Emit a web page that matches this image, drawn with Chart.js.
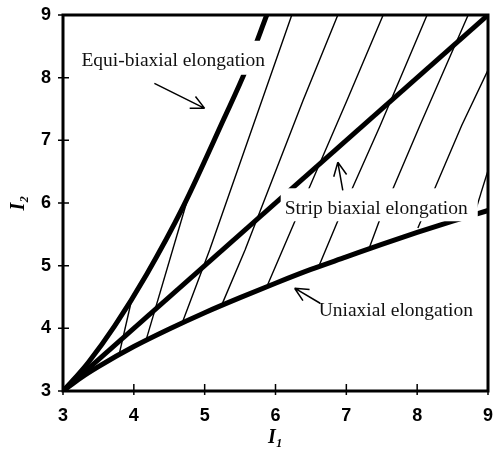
<!DOCTYPE html>
<html>
<head>
<meta charset="utf-8">
<script src="https://cdn.jsdelivr.net/npm/chart.js@4"></script>
<style>
  html, body { margin: 0; padding: 0; background: #fff; }
  canvas { display: block; }
</style>
</head>
<body>
<canvas id="chart" width="495" height="450"></canvas>
<script>
// values (I1 on x, I2 on y)
const uniaxialI1 = [3.0, 3.25, 3.5, 4.0, 4.5, 5.0, 5.5, 6.0, 6.5, 7.0, 7.5, 8.0, 8.5, 9.0];
const uniaxialI2 = [3.0, 3.21, 3.39, 3.71, 3.99, 4.25, 4.49, 4.72, 4.94, 5.14, 5.34, 5.53, 5.71, 5.88];

const equiI1 = [3.0, 3.10, 3.36, 3.73, 4.18, 4.70, 5.27, 5.58, 5.89];
const equiI2 = [3.0, 3.12, 3.46, 4.04, 4.86, 5.95, 7.34, 8.12, 9.04];

const stripI1 = [3.0, 9.0];
const stripI2 = [3.0, 9.0];

// thin shading lines, each a list of [I1, I2] points
const hatchLines = [
  [[3.80, 3.62], [3.97, 4.46]],
  [[4.18, 3.84], [4.80, 6.22]],
  [[4.69, 4.11], [5.07, 5.25], [6.23, 9.0]],
  [[5.24, 4.37], [5.57, 5.25], [6.39, 7.64], [6.88, 9.0]],
  [[5.88, 4.67], [6.46, 6.20], [7.01, 7.64], [7.52, 9.0]],
  [[6.60, 4.96], [6.87, 5.69], [7.48, 7.24], [8.14, 9.0]],
  [[7.33, 5.30], [7.47, 5.73], [8.04, 7.24], [8.72, 9.0]],
  [[8.01, 5.60], [8.63, 7.24], [9.0, 8.12]],
  [[8.80, 5.79], [9.0, 6.52]]
];

const labelText = ['Equi-biaxial elongation', 'Strip biaxial elongation', 'Uniaxial elongation'];
const labelI1 = [3.26, 6.13, 6.61];
const labelI2 = [8.19, 5.82, 4.20];

const arrowFrom = [[4.29, 7.91], [6.95, 6.20], [6.63, 4.40]];
const arrowTo = [[5.0, 7.51], [6.88, 6.65], [6.27, 4.64]];

const ticks = [3, 4, 5, 6, 7, 8, 9];

const toPoints = (xs, ys) => xs.map((v, i) => ({ x: v, y: ys[i] }));

const thick = data => ({
  data, showLine: true, borderColor: '#000', borderWidth: 5,
  pointRadius: 0, fill: false, clip: 0, cubicInterpolationMode: 'monotone'
});

const datasets = hatchLines.map(line => ({
  data: line.map(p => ({ x: p[0], y: p[1] })),
  showLine: true, borderColor: '#000', borderWidth: 1.4,
  pointRadius: 0, fill: false, clip: 0
}));
datasets.push(thick(toPoints(stripI1, stripI2)));
datasets.push(thick(toPoints(uniaxialI1, uniaxialI2)));
datasets.push(thick(toPoints(equiI1, equiI2)));

// label boxes hide the lines behind the text, then arrows and the frame
const annotate = {
  id: 'annotate',
  afterDatasetsDraw(chart) {
    const { ctx, chartArea: a, scales: { x, y } } = chart;
    const pads = [[3, 2, 25, 9], [4, 10, 26, 7], [0, 0, 0, 0]];
    ctx.save();
    ctx.font = '19.5px "Liberation Serif", "Times New Roman", serif';
    ctx.textBaseline = 'alphabetic';
    labelText.forEach((t, i) => {
      const px = x.getPixelForValue(labelI1[i]);
      const py = y.getPixelForValue(labelI2[i]);
      const w = ctx.measureText(t).width;
      const [l, r, tp, b] = pads[i];
      ctx.fillStyle = '#fff';
      ctx.fillRect(px - l, py - tp, w + l + r, tp + b);
      ctx.fillStyle = '#111';
      ctx.fillText(t, px, py);
    });

    ctx.strokeStyle = '#000';
    ctx.lineWidth = 1.5;
    arrowFrom.forEach((f, i) => {
      const x0 = x.getPixelForValue(f[0]), y0 = y.getPixelForValue(f[1]);
      const x1 = x.getPixelForValue(arrowTo[i][0]), y1 = y.getPixelForValue(arrowTo[i][1]);
      const ang = Math.atan2(y1 - y0, x1 - x0);
      ctx.beginPath();
      ctx.moveTo(x0, y0);
      ctx.lineTo(x1, y1);
      [-0.45, 0.45].forEach(d => {
        ctx.moveTo(x1, y1);
        ctx.lineTo(x1 - 15 * Math.cos(ang + d), y1 - 15 * Math.sin(ang + d));
      });
      ctx.stroke();
    });

    ctx.lineWidth = 3;
    ctx.strokeRect(a.left, a.top, a.right - a.left, a.bottom - a.top);
    ctx.lineWidth = 1.5;
    ctx.beginPath();
    ticks.forEach(v => {
      const px = x.getPixelForValue(v);
      ctx.moveTo(px, a.bottom - 7);
      ctx.lineTo(px, a.bottom + 4);
      const py = y.getPixelForValue(v);
      ctx.moveTo(a.left - 5, py);
      ctx.lineTo(a.left + 6, py);
    });
    ctx.stroke();
    ctx.restore();
  }
};

const tickFont = { family: '"Liberation Sans", Arial, sans-serif', size: 18, weight: 'bold' };
const titleFont = { family: '"Liberation Serif", "Times New Roman", serif', size: 20, style: 'italic', weight: 'bold' };

new Chart(document.getElementById('chart'), {
  type: 'scatter',
  data: { datasets },
  plugins: [annotate],
  options: {
    responsive: false,
    animation: false,
    layout: { padding: { top: 15, right: 7, left: 0, bottom: 0 } },
    plugins: { legend: { display: false }, tooltip: { enabled: false } },
    scales: {
      x: {
        type: 'linear', min: 3, max: 9,
        ticks: { stepSize: 1, color: '#000', font: tickFont, padding: 14 },
        grid: { display: false, drawTicks: false },
        border: { display: false },
        title: { display: true, text: 'I\u2081', color: '#000', font: titleFont, padding: 0 },
        afterFit: s => { s.height = 59; s.paddingLeft = 0; s.paddingRight = 0; }
      },
      y: {
        type: 'linear', min: 3, max: 9,
        ticks: { stepSize: 1, color: '#000', font: tickFont, padding: 12 },
        grid: { display: false, drawTicks: false },
        border: { display: false },
        title: { display: true, text: 'I\u2082', color: '#000', font: titleFont, padding: { top: 7, bottom: 0 } },
        afterFit: s => { s.width = 63; s.paddingTop = 0; s.paddingBottom = 0; }
      }
    }
  }
});
</script>
</body>
</html>
